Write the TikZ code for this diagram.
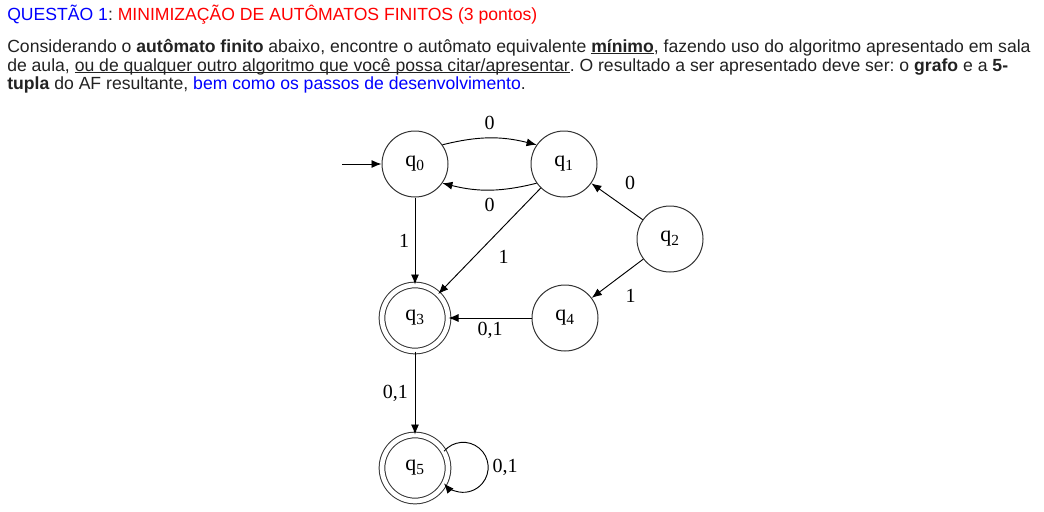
\documentclass[tikz,border=0pt]{standalone}
\usepackage{fontspec}
\setmainfont{Liberation Sans}
\newfontfamily\diagfont{Liberation Serif}
\usetikzlibrary{arrows.meta}
\definecolor{bodytxt}{HTML}{222222}
\definecolor{qblue}{RGB}{0,0,255}
\definecolor{qred}{RGB}{255,0,0}
\definecolor{statecol}{HTML}{333333}
\newcommand\myul[1]{\setbox0\hbox{#1}\rlap{\rule[-1.6pt]{\wd0}{0.6pt}}\box0}
\frenchspacing
\begin{document}
\begin{tikzpicture}[x=0.75pt,y=0.75pt,
  txt/.style={anchor=base west,inner sep=0pt,font=\fontsize{13.2}{15}\selectfont,text=bodytxt},
  state/.style={circle,draw=statecol,line width=0.75pt,minimum size=49.5pt,inner sep=0pt,font=\diagfont\fontsize{16.5}{18}\selectfont},
  accept/.style={state,double=white,double distance=3.5pt},
  tr/.style={draw=black,line width=0.7pt,-{Latex[length=7.5pt,width=6pt]}},
  lbl/.style={font=\diagfont\fontsize{15}{17}\selectfont,inner sep=2pt}]
\useasboundingbox (0,0) rectangle (1044,-511);
\fill[white] (0,0) rectangle (1044,-511);

\node[txt] (title) at (7,-20) {\textcolor{qblue}{QUESTÃO 1}: \textcolor{qred}{MINIMIZAÇÃO DE AUTÔMATOS FINITOS (3 pontos)}};
\node[txt] (l1) at (7,-52) {Considerando o \textbf{autômato finito} abaixo, encontre o autômato equivalente \myul{\textbf{mínimo}}, fazendo uso do algoritmo apresentado em sala};
\node[txt] (l2) at (7,-71) {de aula, \myul{ou de qualquer outro algoritmo que você possa citar/apresentar}. O resultado a ser apresentado deve ser: o \textbf{grafo} e a \textbf{5-}};
\node[txt] (l3) at (7,-89) {\textbf{tupla} do AF resultante, \textcolor{qblue}{bem como os passos de desenvolvimento}.};

\node[state] (q0) at (415,-164) {q\textsubscript{0}};
\node[state] (q1) at (564,-164) {q\textsubscript{1}};
\node[state] (q2) at (670,-239) {q\textsubscript{2}};
\node[accept] (q3) at (415,-318) {q\textsubscript{3}};
\node[state] (q4) at (565,-318) {q\textsubscript{4}};
\node[accept] (q5) at (415,-468) {q\textsubscript{5}};
\coordinate (start) at (342,-164);

\draw[tr] (start) -- (q0);
\draw[tr] (q0.35) to[bend left=14] node[lbl,above,inner sep=6pt] {0} (q1.145);
\draw[tr] (q1.-145) to[bend left=14] node[lbl,below,inner sep=6pt] {0} (q0.-35);
\draw[tr] (q0) -- node[lbl,left,inner sep=4pt] {1} (q3);
\draw[tr] (q1) -- node[lbl,anchor=north west,pos=0.5,shift={(6,-6)}] {1} (q3);
\draw[tr] (q2) -- node[lbl,anchor=south west,pos=0.5,shift={(5,9)}] {0} (q1);
\draw[tr] (q2) -- node[lbl,anchor=north west,pos=0.5,shift={(5,-8)}] {1} (q4);
\draw[tr] (q4) -- node[lbl,below,inner sep=3pt] {0,1} (q3);
\draw[tr] (q3) -- node[lbl,left,inner sep=5pt] {0,1} (q5);
\draw[tr] (q5.30) arc[start angle=140,end angle=-140,radius=25] node[lbl,pos=0.5,right,inner sep=3pt] {0,1};
\end{tikzpicture}
\end{document}
